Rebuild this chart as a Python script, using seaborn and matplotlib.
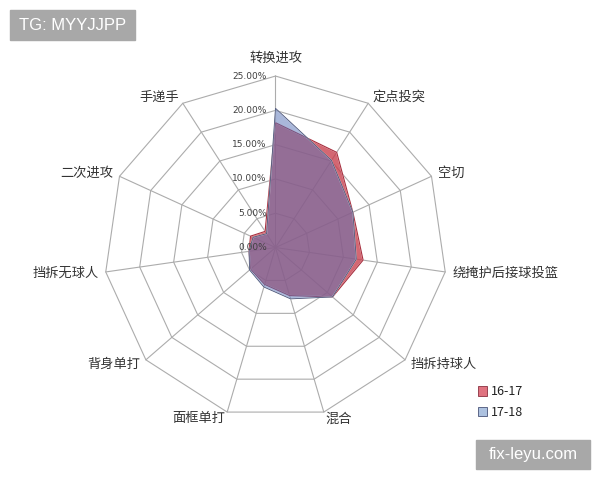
import numpy as np
import pandas as pd
import matplotlib.pyplot as plt
import seaborn as sns
from matplotlib.patches import Patch, Rectangle

# play type share per season (%)
categories = ['转换进攻', '定点投突', '空切', '绕掩护后接球投篮', '挡拆持球人', '混合',
              '面框单打', '背身单打', '挡拆无球人', '二次进攻', '手递手']
share_1617 = [18.2, 16.5, 12.4, 12.9, 11.0, 7.3, 5.6, 4.8, 3.9, 4.0, 2.8]
share_1718 = [20.3, 15.1, 12.4, 11.9, 11.0, 7.8, 6.0, 5.0, 3.9, 3.6, 2.4]
season_labels = ['16-17', '17-18']
ring_levels = [0, 5, 10, 15, 20, 25]

sns.set_theme(style='white')
plt.rcParams['font.family'] = ['Noto Sans CJK SC', 'DejaVu Sans']

n = len(categories)
theta = np.pi / 2 - 2 * np.pi * np.arange(n) / n


def to_xy(values):
    v = np.asarray(values, dtype=float)
    return v * np.cos(theta), v * np.sin(theta)


fig = plt.figure(figsize=(6, 4.8), dpi=100)
ax = fig.add_axes([0.0933, 0.027, 0.7317, 0.9146])
ax.set_xlim(-32, 32)
ax.set_ylim(-32, 32)
ax.set_aspect('equal')
ax.axis('off')

# polygon grid rings
rows = []
for lvl in ring_levels[1:]:
    x, y = to_xy([lvl] * n)
    for i in list(range(n)) + [0]:
        rows.append({'ring': lvl, 'x': x[i], 'y': y[i]})
grid = pd.DataFrame(rows)
sns.lineplot(data=grid, x='x', y='y', units='ring', estimator=None, sort=False,
             color='#acacac', linewidth=0.8, ax=ax, zorder=1)

# spokes
ox, oy = to_xy([ring_levels[-1]] * n)
for i in range(n):
    ax.plot([0, ox[i]], [0, oy[i]], color='#acacac', lw=0.8, zorder=1)

# series
red_face = (200 / 255, 60 / 255, 75 / 255)
blue_face = (90 / 255, 118 / 255, 185 / 255)
x1, y1 = to_xy(share_1617)
ax.fill(x1, y1, facecolor=red_face, alpha=0.78, zorder=2)
ax.fill(x1, y1, facecolor='none', edgecolor='#a83040', lw=0.8, zorder=2)
x2, y2 = to_xy(share_1718)
ax.fill(x2, y2, facecolor=blue_face, alpha=0.52, zorder=3)
ax.fill(x2, y2, facecolor='none', edgecolor='#4a5478', lw=0.6, zorder=3)

# value axis labels
for lvl in ring_levels:
    ax.text(-1.25, lvl, f'{lvl:.2f}%', ha='right', va='center', fontsize=6.5,
            color='#404040', family=['DejaVu Sans'], zorder=5)

# category labels
px = 25 / 171.5
for i, cat in enumerate(categories):
    c, s = np.cos(theta[i]), np.sin(theta[i])
    r = 25 + (18 if i == 0 else 7) * px
    ha = 'left' if c > 0.1 else ('right' if c < -0.1 else 'center')
    ax.text(r * c, r * s, cat, ha=ha, va='center', fontsize=9.5, color='#333333', zorder=5)

# legend
handles = [Patch(facecolor=(0.88, 0.45, 0.5), edgecolor='#8a3040', lw=0.6),
           Patch(facecolor=(0.68, 0.76, 0.88), edgecolor='#4a5478', lw=0.6)]
fig.legend(handles, season_labels, loc='upper left', bbox_to_anchor=(467 / 600, 1 - 374 / 480),
           frameon=False, handlelength=0.7, handleheight=0.8, handletextpad=0.3,
           labelspacing=0.6, fontsize=9, labelcolor='#222222')

# watermarks
fig.patches.append(Rectangle((10 / 600, 1 - 40 / 480), 125 / 600, 30 / 480,
                             transform=fig.transFigure, color='#a8a8a8', zorder=10))
fig.text(72.5 / 600, 1 - 25 / 480, 'TG: MYYJJPP', ha='center', va='center', color='white',
         fontsize=12, family=['Liberation Sans'], zorder=11)
fig.patches.append(Rectangle((476 / 600, 1 - 469 / 480), 114 / 600, 29 / 480,
                             transform=fig.transFigure, color='#a8a8a8', zorder=10))
fig.text(533 / 600, 1 - 454.5 / 480, 'fix-leyu.com', ha='center', va='center', color='white',
         fontsize=12, family=['Liberation Sans'], zorder=11)

fig.savefig('out.png', dpi=100)
